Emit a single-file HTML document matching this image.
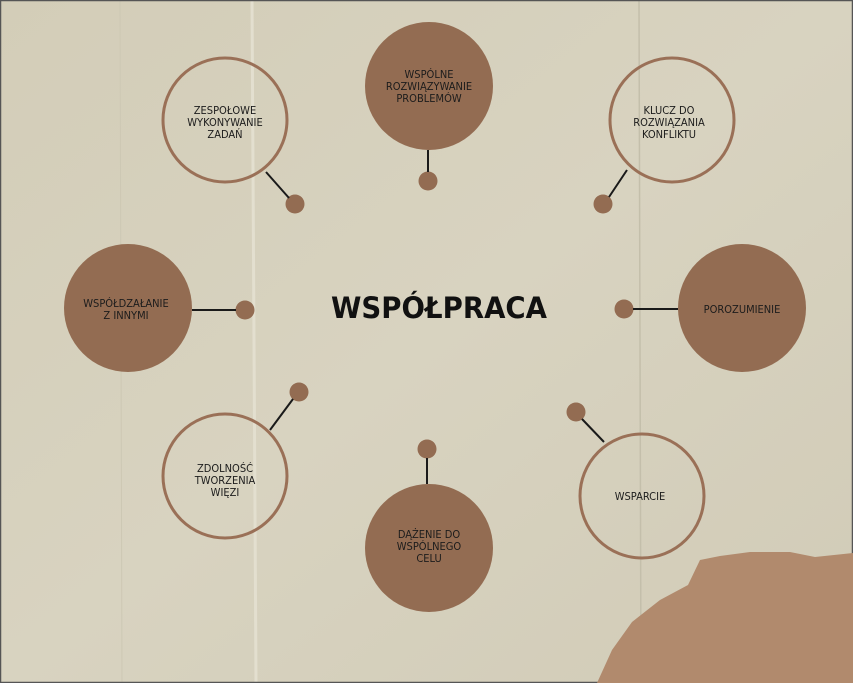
<!DOCTYPE html>
<html><head><meta charset="utf-8"><style>
html,body{margin:0;padding:0;}
body{width:853px;height:683px;overflow:hidden;background:#d4cfba;font-family:"Liberation Sans","DejaVu Sans",sans-serif;}
svg{display:block}
</style></head><body>
<svg width="853" height="683" viewBox="0 0 853 683" xmlns="http://www.w3.org/2000/svg">
<defs>
<linearGradient id="bg" x1="0" y1="0" x2="1" y2="1">
<stop offset="0" stop-color="#d3cdb8"/><stop offset="0.5" stop-color="#d8d3c0"/><stop offset="1" stop-color="#d1cbb7"/>
</linearGradient>
</defs>
<rect x="0" y="0" width="853" height="683" fill="url(#bg)"/>
<line x1="252" y1="0" x2="256" y2="683" stroke="#e3dfcf" stroke-width="3"/>
<line x1="639" y1="0" x2="641" y2="683" stroke="#c4bfab" stroke-width="1.5"/>
<line x1="120" y1="0" x2="122" y2="683" stroke="#cdc8b4" stroke-width="1"/>
<rect x="0.5" y="0.5" width="852" height="682" fill="none" stroke="#555" stroke-width="1.5"/>
<polygon points="597,683 612,650 632,622 660,600 688,585 700,560 720,556 750,552 790,552 815,557 853,553 853,683" fill="#b18a6d"/>
<g fill="#936c52" stroke="none">
<circle cx="429" cy="86" r="64"/>
<circle cx="128" cy="308" r="64"/>
<circle cx="742" cy="308" r="64"/>
<circle cx="429" cy="548" r="64"/>
<circle cx="428" cy="181" r="9.5"/>
<circle cx="295" cy="204" r="9.5"/>
<circle cx="603" cy="204" r="9.5"/>
<circle cx="245" cy="310" r="9.5"/>
<circle cx="624" cy="309" r="9.5"/>
<circle cx="299" cy="392" r="9.5"/>
<circle cx="427" cy="449" r="9.5"/>
<circle cx="576" cy="412" r="9.5"/>
</g>
<g fill="none" stroke="#9a7057" stroke-width="3">
<circle cx="225" cy="120" r="62"/>
<circle cx="672" cy="120" r="62"/>
<circle cx="225" cy="476" r="62"/>
<circle cx="642" cy="496" r="62"/>
</g>
<g stroke="#1a1a1a" stroke-width="2">
<line x1="428" y1="150" x2="428" y2="172"/>
<line x1="266" y1="172" x2="289" y2="198"/>
<line x1="627" y1="170" x2="609" y2="197"/>
<line x1="192" y1="310" x2="236" y2="310"/>
<line x1="633" y1="309" x2="678" y2="309"/>
<line x1="293" y1="399" x2="270" y2="430"/>
<line x1="427" y1="458" x2="427" y2="484"/>
<line x1="582" y1="419" x2="604" y2="442"/>
</g>
<g font-family="DejaVu Sans Condensed, Liberation Sans Narrow, Liberation Sans, sans-serif" font-size="11" fill="#1c1c1c" text-anchor="middle">
<text x="429" y="78">WSPÓLNE</text><text x="429" y="90">ROZWIĄZYWANIE</text><text x="429" y="102">PROBLEMÓW</text>
<text x="225" y="114">ZESPOŁOWE</text><text x="225" y="126">WYKONYWANIE</text><text x="225" y="138">ZADAŃ</text>
<text x="669" y="114">KLUCZ DO</text><text x="669" y="126">ROZWIĄZANIA</text><text x="669" y="138">KONFLIKTU</text>
<text x="126" y="307">WSPÓŁDZAŁANIE</text><text x="126" y="319">Z INNYMI</text>
<text x="742" y="313">POROZUMIENIE</text>
<text x="225" y="472">ZDOLNOŚĆ</text><text x="225" y="484">TWORZENIA</text><text x="225" y="496">WIĘZI</text>
<text x="429" y="538">DĄŻENIE DO</text><text x="429" y="550">WSPÓLNEGO</text><text x="429" y="562">CELU</text>
<text x="640" y="500">WSPARCIE</text>
</g>
<text x="439" y="318" text-anchor="middle" font-family="DejaVu Sans, Liberation Sans, sans-serif" font-weight="bold" font-size="29" fill="#111" textLength="216" lengthAdjust="spacingAndGlyphs">WSPÓŁPRACA</text>
</svg>
</body></html>
